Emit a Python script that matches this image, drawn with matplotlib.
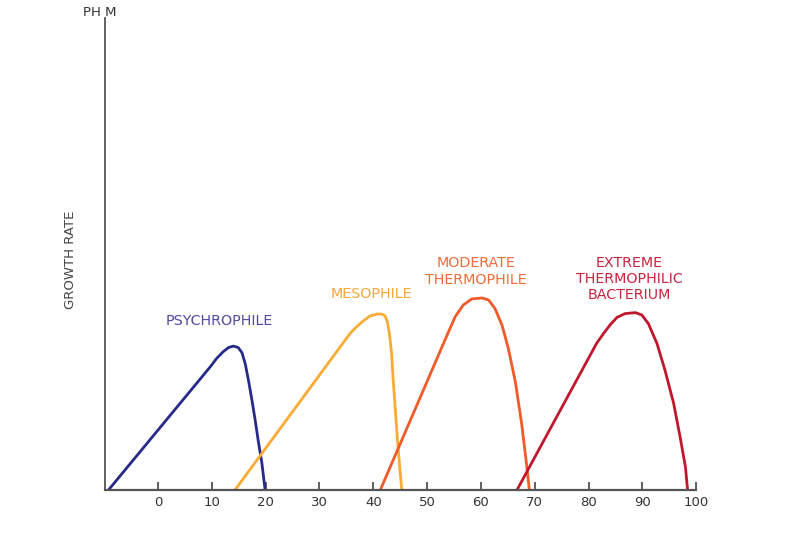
import matplotlib
matplotlib.use("Agg")
import matplotlib.pyplot as plt

# values (temperature, relative growth rate)
psy_t = [-9.2, 9.7, 10.9, 12.1, 13.1, 14.0, 14.9, 15.6, 16.2, 16.8, 17.4,
         18.0, 18.6, 19.3, 19.9]
psy_g = [0.0, 26.1, 27.9, 29.3, 30.2, 30.5, 30.2, 29.1, 26.8, 23.3, 19.4,
         15.2, 10.6, 5.7, 0.0]

meso_t = [14.3, 35.7, 36.9, 38.2, 39.4, 40.7, 41.6, 42.2, 42.6, 43.0, 43.4,
          43.7, 44.1, 44.5, 44.9, 45.3]
meso_g = [0.0, 33.2, 34.6, 35.9, 36.9, 37.3, 37.3, 36.9, 35.7, 33.2, 29.0,
          23.3, 16.9, 10.6, 4.9, 0.0]

mod_t = [41.3, 53.7, 55.2, 56.7, 58.3, 60.2, 61.4, 62.6, 63.9, 65.1, 66.4,
         67.6, 68.5, 69.0]
mod_g = [0.0, 32.8, 36.7, 39.2, 40.5, 40.7, 40.3, 38.5, 35.0, 30.0, 22.9,
         13.8, 5.3, 0.0]

ext_t = [66.7, 81.5, 82.8, 84.0, 85.3, 86.8, 88.7, 89.9, 91.1, 92.7, 94.2,
         95.8, 97.0, 98.0, 98.4]
ext_g = [0.0, 31.1, 33.2, 35.0, 36.6, 37.4, 37.6, 37.1, 35.3, 31.1, 25.4,
         18.4, 11.3, 4.9, 0.0]

xticks = [0, 10, 20, 30, 40, 50, 60, 70, 80, 90, 100]

fig = plt.figure(figsize=(8, 5.33), dpi=100)
ax = fig.add_axes([0.13125, 0.0807, 0.739, 0.885])

curves = [
    (psy_t, psy_g, "#262a8a"),
    (meso_t, meso_g, "#f9ab35"),
    (mod_t, mod_g, "#f15a29"),
    (ext_t, ext_g, "#c0172d"),
]
for t, g, c in curves:
    ax.plot(t, g, color=c, lw=2.0, solid_joinstyle="round",
            solid_capstyle="butt", clip_on=False)

ax.text(11.3, 35.8, "PSYCHROPHILE", color="#4f4aa3", fontsize=10.3,
        ha="center", va="center")
ax.text(39.6, 41.5, "MESOPHILE", color="#f7a63c", fontsize=10.3,
        ha="center", va="center")
ax.text(59.1, 46.3, "MODERATE\nTHERMOPHILE", color="#f26a3b", fontsize=10.3,
        ha="center", va="center", linespacing=1.2)
ax.text(87.5, 44.7, "EXTREME\nTHERMOPHILIC\nBACTERIUM", color="#c8233f",
        fontsize=10.3, ha="center", va="center", linespacing=1.2)

ax.set_xlim(-9.85, 100)
ax.set_ylim(0, 100)
ax.set_xticks(xticks)
ax.set_xticklabels([str(v) for v in xticks], fontsize=9.5, color="#333333")
ax.tick_params(axis="x", direction="in", length=6, width=1.2,
               color="#444444", pad=4)
ax.set_yticks([])
for s in ["top", "right"]:
    ax.spines[s].set_visible(False)
ax.spines["bottom"].set_color("#555555")
ax.spines["left"].set_color("#555555")
ax.spines["bottom"].set_linewidth(1.6)
ax.spines["left"].set_linewidth(1.3)
ax.set_ylabel("GROWTH RATE", fontsize=9.5, color="#444444")
ax.yaxis.set_label_coords(-0.047, 0.487)

fig.text(100 / 800, 1 - 12 / 533, "PH M", fontsize=9.5, color="#333333",
         ha="center", va="center")

fig.savefig("out.png", dpi=100)
